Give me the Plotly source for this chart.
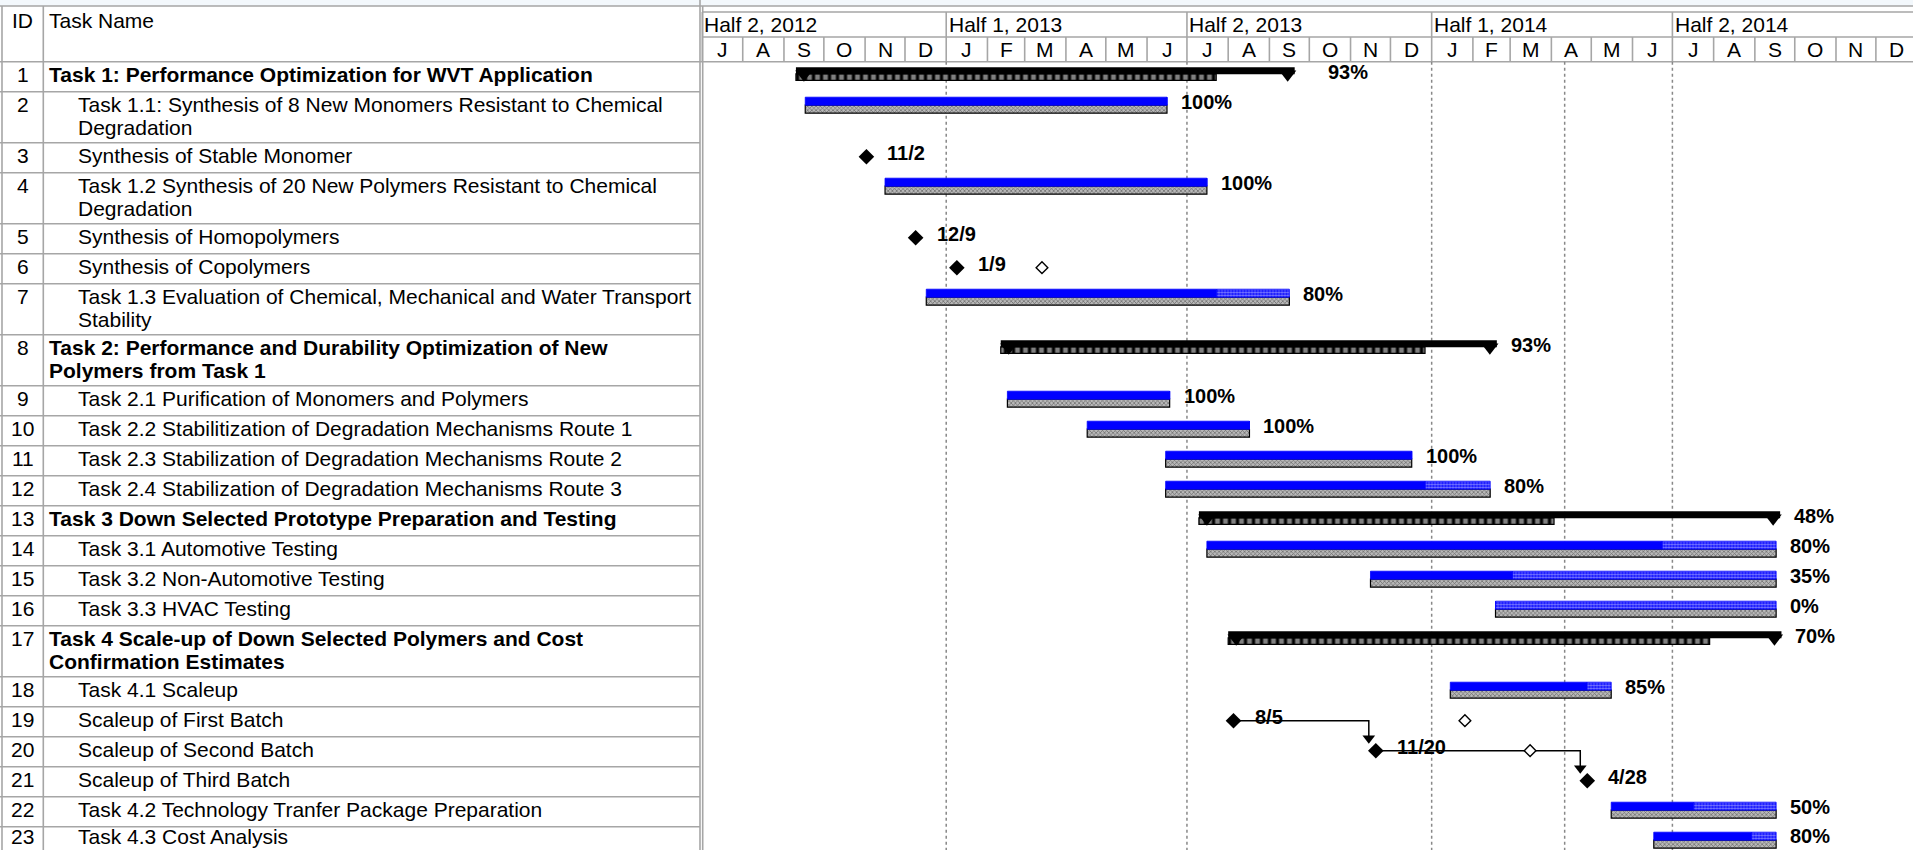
import pandas as pd
import plotly.graph_objects as go

# ---------------- data ----------------
task_ids = list(range(1, 24))
task_names = [
    "Task 1: Performance Optimization for WVT Application",
    "Task 1.1: Synthesis of 8 New Monomers Resistant to Chemical<br>Degradation",
    "Synthesis of Stable Monomer",
    "Task 1.2 Synthesis of 20 New Polymers Resistant to Chemical<br>Degradation",
    "Synthesis of Homopolymers",
    "Synthesis of Copolymers",
    "Task 1.3 Evaluation of Chemical, Mechanical and Water Transport<br>Stability",
    "Task 2: Performance and Durability Optimization of New<br>Polymers from Task 1",
    "Task 2.1 Purification of Monomers and Polymers",
    "Task 2.2 Stabilitization of Degradation Mechanisms Route 1",
    "Task 2.3 Stabilization of Degradation Mechanisms Route 2",
    "Task 2.4 Stabilization of Degradation Mechanisms Route 3",
    "Task 3 Down Selected Prototype Preparation and Testing",
    "Task 3.1 Automotive Testing",
    "Task 3.2 Non-Automotive Testing",
    "Task 3.3 HVAC Testing",
    "Task 4 Scale-up of Down Selected Polymers and Cost<br>Confirmation Estimates",
    "Task 4.1 Scaleup",
    "Scaleup of First Batch",
    "Scaleup of Second Batch",
    "Scaleup of Third Batch",
    "Task 4.2 Technology Tranfer Package Preparation",
    "Task 4.3 Cost Analysis",
]
task_types = ["summary", "task", "milestone", "task", "milestone", "milestone", "task",
              "summary", "task", "task", "task", "task",
              "summary", "task", "task", "task",
              "summary", "task", "milestone", "milestone", "milestone", "task", "task"]
task_start = ["2012-09-10", "2012-09-17", "2012-11-02", "2012-11-16", "2012-12-09", "2013-01-09", "2012-12-17",
              "2013-02-11", "2013-02-16", "2013-04-17", "2013-06-15", "2013-06-15",
              "2013-07-10", "2013-07-16", "2013-11-16", "2014-02-18",
              "2013-08-01", "2014-01-15", "2013-08-05", "2013-11-20", "2014-04-28", "2014-05-16", "2014-06-17"]
task_finish = ["2013-09-20", "2013-06-16", None, "2013-07-16", None, None, "2013-09-16",
               "2014-02-19", "2013-06-18", "2013-08-17", "2013-12-17", "2014-02-14",
               "2014-09-20", "2014-09-17", "2014-09-17", "2014-09-17",
               "2014-09-21", "2014-05-16", None, None, None, "2014-09-17", "2014-09-17"]
pct_complete = [93, 100, None, 100, None, None, 80, 93, 100, 100, 100, 80,
                48, 80, 35, 0, 70, 85, None, None, None, 50, 80]
summary_done_through = {1: "2013-07-23", 8: "2013-12-27", 13: "2014-04-03", 17: "2014-07-29"}
hollow_markers = {6: "2013-03-14", 19: "2014-01-26", 20: "2014-03-16"}
links = [(19, 20), (20, 21)]
half_labels = ["Half 2, 2012", "Half 1, 2013", "Half 2, 2013", "Half 1, 2014", "Half 2, 2014"]
half_starts = ["2012-07-01", "2013-01-01", "2013-07-01", "2014-01-01", "2014-07-01"]
month_letters = list("JASONDJFMAMJJASONDJFMAMJJASOND")
status_date = "2014-04-11"

# ---------------- layout constants ----------------
W, H = 1913, 850
X0_PX = 701.5
PX_PER_DAY = 1.33
T0 = pd.Timestamp("2012-07-01")
X_END = T0 + pd.Timedelta(days=(W - X0_PX) / PX_PER_DAY)
HEADER_TOP, HEADER_MID1, HEADER_MID2, HEADER_BOTTOM = 6, 12, 37, 61.7
SINGLE, DOUBLE = 30, 51
ID_COL, TABLE_RIGHT, CHART_LEFT = 43.3, 700, 702.7
GRID = "#a6a6a6"
FONT = "Liberation Sans, Arial, sans-serif"
TEXT_MAX_Y = H - 14


def shift(d, px):
    return pd.Timestamp(d) + pd.Timedelta(days=px / PX_PER_DAY)


def ms(a, b):
    return (pd.Timestamp(b) - pd.Timestamp(a)) / pd.Timedelta(milliseconds=1)


name_lines = [n.split("<br>") for n in task_names]
tops = []
yy = HEADER_BOTTOM
for lines in name_lines:
    tops.append(yy)
    yy += DOUBLE if len(lines) > 1 else SINGLE
top_of = {tid: t for tid, t in zip(task_ids, tops)}

fig = go.Figure()
annotations = []
shapes = []


def add_text(x, y, s, xref="paper", size=21, bold=False, xanchor="left", xshift=0):
    annotations.append(dict(
        x=x, y=min(y, TEXT_MAX_Y), xref=xref, yref="y", text=("<b>%s</b>" % s) if bold else s,
        showarrow=False, xanchor=xanchor, yanchor="middle", xshift=xshift, borderpad=0,
        font=dict(family=FONT, size=size, color="black")))


def hline(y, x0, x1, xref="paper", color=GRID, width=1.6):
    shapes.append(dict(type="line", xref=xref, yref="y", x0=x0, x1=x1, y0=y, y1=y,
                       line=dict(color=color, width=width), layer="below"))


def vline(x, y0, y1, xref="paper", color=GRID, width=1.6, dash="solid"):
    shapes.append(dict(type="line", xref=xref, yref="y", x0=x, x1=x, y0=y0, y1=y1,
                       line=dict(color=color, width=width, dash=dash), layer="below"))


# ---------------- table & header frame ----------------
shapes.append(dict(type="rect", xref="paper", yref="y", x0=0, x1=1, y0=0, y1=HEADER_TOP,
                   fillcolor="#f3f8fc", line=dict(width=0), layer="below"))
hline(HEADER_TOP, 0, 1)
hline(HEADER_MID1, CHART_LEFT / W, 1)
hline(HEADER_MID2, CHART_LEFT / W, 1)
hline(HEADER_BOTTOM, 0, 1)
for t, lines in zip(tops, name_lines):
    hline(t + (DOUBLE if len(lines) > 1 else SINGLE), 0, TABLE_RIGHT / W)
vline(2 / W, HEADER_TOP, H)
vline(ID_COL / W, HEADER_TOP, H)
vline(TABLE_RIGHT / W, 0, H)
vline(CHART_LEFT / W, HEADER_TOP, H)

add_text(22.5 / W, 20, "ID", xanchor="center")
add_text(48.3 / W, 20, "Task Name")

for tid, t, lines, typ in zip(task_ids, tops, name_lines, task_types):
    bold = typ == "summary"
    indent = 48.3 if bold else 76.5
    if len(lines) == 1:
        add_text(22.5 / W, t + 12.8, str(tid), xanchor="center")
        add_text(indent / W, t + 12.8, lines[0], bold=bold)
    else:
        add_text(22.5 / W, t + 12.5, str(tid), xanchor="center")
        for k, ln in enumerate(lines):
            add_text(indent / W, t + 12.5 + 23.5 * k, ln, bold=bold)

# timescale header
month_starts = pd.date_range(T0, periods=len(month_letters) + 1, freq="MS")
for hs, hl in zip(half_starts, half_labels):
    vline(hs, HEADER_MID1, HEADER_MID2, xref="x")
    add_text(hs, 24.5, hl, xref="x", xshift=1.5)
for i, ml in enumerate(month_letters):
    a, b = month_starts[i], month_starts[i + 1]
    vline(a, HEADER_MID2, HEADER_BOTTOM, xref="x")
    add_text(a + (b - a) / 2, 49.5, ml, xref="x", xanchor="center")

# dotted grid lines (half boundaries + status date)
for d in half_starts[1:] + [status_date]:
    vline(d, HEADER_BOTTOM, H, xref="x", color="#888888", width=1.5, dash="dot")

# ---------------- bars ----------------
base_b, dur_b, y_b = [], [], []
base_d, dur_d, y_d = [], [], []
base_r, dur_r, y_r = [], [], []
for tid, typ, s, f, p in zip(task_ids, task_types, task_start, task_finish, pct_complete):
    if typ != "task":
        continue
    t = top_of[tid]
    total = ms(s, f)
    done = total * p / 100.0
    base_b.append(s); dur_b.append(total); y_b.append(t + 17.5)
    base_d.append(s); dur_d.append(done); y_d.append(t + 9.5)
    base_r.append(pd.Timestamp(s) + pd.Timedelta(milliseconds=done)); dur_r.append(total - done); y_r.append(t + 9.5)

fig.add_trace(go.Bar(orientation="h", y=y_b, x=dur_b, base=base_b, width=8,
                     marker=dict(color="#b8b8b8", line=dict(color="black", width=1.2),
                                 pattern=dict(shape="x", fgcolor="#1a1a1a", size=3, solidity=0.4,
                                              fillmode="overlay")),
                     hoverinfo="skip"))
fig.add_trace(go.Bar(orientation="h", y=y_d, x=dur_d, base=base_d, width=8,
                     marker=dict(color="#0000ff", line=dict(color="#0000ff", width=0.8)),
                     hoverinfo="skip"))
fig.add_trace(go.Bar(orientation="h", y=y_r, x=dur_r, base=base_r, width=8,
                     marker=dict(color="#0000ff", line=dict(color="#0000ff", width=0.8),
                                 pattern=dict(shape=".", fgcolor="#ffffff", size=3, solidity=0.5,
                                              fillmode="overlay")),
                     hoverinfo="skip"))

# summary bars
sb_base, sb_dur, sb_y = [], [], []
sd_base, sd_dur, sd_y = [], [], []
cap_x, cap_y = [], []
for tid, typ, s, f in zip(task_ids, task_types, task_start, task_finish):
    if typ != "summary":
        continue
    t = top_of[tid]
    sb_base.append(s); sb_dur.append(ms(s, f)); sb_y.append(t + 9)
    sd_base.append(s); sd_dur.append(ms(s, summary_done_through[tid])); sd_y.append(t + 15.5)
    cap_x += [shift(s, 8), shift(f, -7)]
    cap_y += [t + 12.5, t + 12.5]

fig.add_trace(go.Bar(orientation="h", y=sd_y, x=sd_dur, base=sd_base, width=6.5,
                     marker=dict(color="#000000", line=dict(color="black", width=1.2),
                                 pattern=dict(shape="|", fgcolor="#ffffff", size=8, solidity=0.6,
                                              fillmode="overlay")),
                     hoverinfo="skip"))
fig.add_trace(go.Bar(orientation="h", y=sb_y, x=sb_dur, base=sb_base, width=7,
                     marker=dict(color="#000000", line=dict(width=0)), hoverinfo="skip"))
fig.add_trace(go.Scatter(x=cap_x, y=cap_y, mode="markers",
                         marker=dict(symbol="triangle-down", size=15, color="black", line=dict(width=0)),
                         hoverinfo="skip"))

# dependency links between milestones
for a, b in links:
    da, db = task_start[a - 1], task_start[b - 1]
    ya, yb = top_of[a] + 14, top_of[b] + 14
    xt = shift(db, -7)
    tip = yb - 7
    fig.add_trace(go.Scatter(x=[pd.Timestamp(da), xt, xt], y=[ya, ya, tip - 5], mode="lines",
                             line=dict(color="black", width=1.5), hoverinfo="skip"))
    fig.add_trace(go.Scatter(x=[xt], y=[tip - 5.5], mode="markers",
                             marker=dict(symbol="triangle-down", size=11, color="black"),
                             hoverinfo="skip"))

# hollow markers
fig.add_trace(go.Scatter(x=list(hollow_markers.values()),
                         y=[top_of[k] + 14 for k in hollow_markers],
                         mode="markers",
                         marker=dict(symbol="diamond", size=9, color="white",
                                     line=dict(color="black", width=1.4)),
                         hoverinfo="skip"))

# milestones
ms_x = [s for typ, s in zip(task_types, task_start) if typ == "milestone"]
ms_y = [top_of[tid] + 14 for tid, typ in zip(task_ids, task_types) if typ == "milestone"]
fig.add_trace(go.Scatter(x=ms_x, y=ms_y, mode="markers",
                         marker=dict(symbol="diamond", size=12, color="black"),
                         hoverinfo="skip"))

# labels
label_gap = {1: 32}
for tid, typ, s, f, p in zip(task_ids, task_types, task_start, task_finish, pct_complete):
    t = top_of[tid]
    if typ == "milestone":
        d = pd.Timestamp(s)
        add_text(s, t + 10.5, "%d/%d" % (d.month, d.day), xref="x", size=20, bold=True, xshift=20)
    else:
        add_text(f, t + 10.5, "%d%%" % p, xref="x", size=20, bold=True, xshift=label_gap.get(tid, 13))

fig.update_layout(
    width=W, height=H, margin=dict(l=0, r=0, t=0, b=0),
    paper_bgcolor="white", plot_bgcolor="rgba(0,0,0,0)",
    barmode="overlay", showlegend=False, hovermode=False,
    xaxis=dict(type="date", range=[T0, X_END], domain=[X0_PX / W, 1], visible=False, fixedrange=True),
    yaxis=dict(range=[H, 0], domain=[0, 1], visible=False, fixedrange=True),
    shapes=shapes, annotations=annotations,
)
fig.write_html("out.html")
